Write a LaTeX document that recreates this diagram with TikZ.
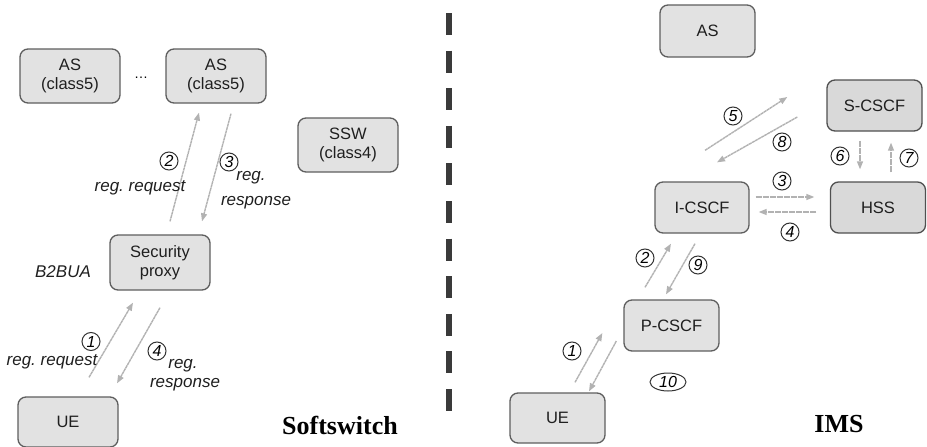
\documentclass[tikz,border=0pt]{standalone}
\usepackage{fontspec}
\setmainfont{Liberation Sans}
\newfontfamily\titlefont{Liberation Serif}
\usetikzlibrary{arrows.meta,shapes.geometric}
\frenchspacing

\definecolor{boxfill}{HTML}{E2E2E2}
\definecolor{boxline}{HTML}{5E5E5E}
\definecolor{msgline}{HTML}{B2B2B2}
\definecolor{divider}{HTML}{3A3A3A}

\tikzset{
  box/.style={draw=boxline, fill=boxfill, line width=1.3pt, rounded corners=8pt,
    inner sep=0pt, align=center, text=black!88, font=\fontsize{16.5}{18.5}\selectfont},
  boxdark/.style={box, fill=boxfill!96!black, draw=boxline!85!black},
  msg/.style={draw=msgline, line width=1.4pt, dash pattern=on 3pt off 0.5pt,
    -{Triangle[length=8pt,width=6pt]}},
  num/.style={circle, draw=black!80, line width=1pt, inner sep=0pt, minimum size=18pt,
    font=\itshape\fontsize{16}{16}\selectfont},
  lbl/.style={font=\itshape\fontsize{17}{19}\selectfont, inner sep=0pt, text=black!88}
}

\begin{document}
\begin{tikzpicture}[x=1pt, y=-1pt, >=Latex]
\useasboundingbox (0,0) rectangle (927,447);

% softswitch side
\node[box, minimum width=100pt, minimum height=54pt] (as1) at (70,76) {AS\\(class5)};
\node[box, minimum width=100pt, minimum height=54pt] (as2) at (216,76) {AS\\(class5)};
\node (dots) at (141,78) {\fontsize{14}{14}\selectfont\dots};
\node[box, minimum width=100pt, minimum height=54pt] (ssw) at (348,145) {SSW\\(class4)};
\node[box, minimum width=100pt, minimum height=55pt] (sp) at (160,262.5) {Security\\proxy};
\node[box, minimum width=100pt, minimum height=50pt] (ue1) at (68,422) {UE};
\node[lbl] (b2bua) at (63,272) {B2BUA};

\draw[msg] ([shift={(10,-13)}]sp.north) -- ([shift={(-17,9)}]as2.south);
\draw[msg] ([shift={(15,10)}]as2.south) -- ([shift={(42,-13)}]sp.north);
\draw[msg] ([shift={(21,-19)}]ue1.north) -- ([shift={(-27,12)}]sp.south);
\draw[msg] ([shift={(0,17)}]sp.south) -- ([shift={(49,-13)}]ue1.north);

\node[num] (s2) at (169,161) {2};
\node[lbl] (req2) at (140,188) {reg. request};
\node[num] (s3) at (229,162) {3};
\node[lbl] (reg3) at (251,178) {reg.};
\node[lbl] (resp3) at (256,203) {response};
\node[num] (s1) at (91,341.5) {1};
\node[lbl] (req1) at (52,362) {reg. request};
\node[num] (s4) at (157,351) {4};
\node[lbl] (reg4) at (183,366) {reg.};
\node[lbl] (resp4) at (185,385) {response};

\node[font=\titlefont\bfseries\fontsize{26}{28}\selectfont, inner sep=0pt] (ssname) at (340,425) {Softswitch};

% dividing line
\draw[divider, line width=6pt, dash pattern=on 22pt off 15.6pt] (448.5,13) -- (448.5,413);

% IMS side
\node[box, minimum width=95pt, minimum height=52pt] (as3) at (707.5,31) {AS};
\node[boxdark, minimum width=95pt, minimum height=51pt] (sc) at (874.5,105.5) {S-CSCF};
\node[boxdark, minimum width=95pt, minimum height=51pt] (hss) at (878,207.5) {HSS};
\node[box, minimum width=94pt, minimum height=51pt] (ic) at (702,207.5) {I-CSCF};
\node[box, minimum width=95pt, minimum height=51pt] (pc) at (671.5,325.5) {P-CSCF};
\node[box, minimum width=95pt, minimum height=50pt] (ue2) at (557.5,418) {UE};

\draw[msg] ([shift={(17.5,-10)}]ue2.north) -- ([shift={(-21,7.5)}]pc.west);
\draw[msg] ([shift={(-26.5,-12)}]pc.north) -- ([shift={(-31,10)}]ic.south);
\draw[msg] ([shift={(6,-10.5)}]ic.east) -- ([shift={(-15.5,-10.5)}]hss.west);
\draw[msg] ([shift={(-13.5,4.5)}]hss.west) -- ([shift={(9,4.5)}]ic.east);
\draw[msg] ([shift={(3,-31)}]ic.north) -- ([shift={(-39,-8.5)}]sc.west);
\draw[msg] ([shift={(-14.5,9)}]sc.south) -- ([shift={(-18,-12)}]hss.north);
\draw[msg] ([shift={(13,-9)}]hss.north) -- ([shift={(16.5,11)}]sc.south);
\draw[msg] ([shift={(-29,11.5)}]sc.west) -- ([shift={(15,-19)}]ic.north);
\draw[msg] ([shift={(-7,10)}]ic.south) -- ([shift={(-5.5,-5)}]pc.north);
\draw[msg] ([shift={(-7,15.5)}]pc.west) -- ([shift={(31.5,-1)}]ue2.north);

\node[num] (i1) at (572,351) {1};
\node[num] (i2) at (645,258) {2};
\node[num] (i3) at (782,181) {3};
\node[num] (i4) at (790,232) {4};
\node[num] (i5) at (733,116) {5};
\node[num] (i6) at (840,156) {6};
\node[num] (i7) at (909,158) {7};
\node[num] (i8) at (782,142) {8};
\node[num] (i9) at (698,265) {9};
\node[num, ellipse, minimum width=36pt, minimum height=18pt] (i10) at (668,382) {10};

\node[font=\titlefont\bfseries\fontsize{26}{28}\selectfont, inner sep=0pt] (imsname) at (839,424) {IMS};
\end{tikzpicture}
\end{document}
